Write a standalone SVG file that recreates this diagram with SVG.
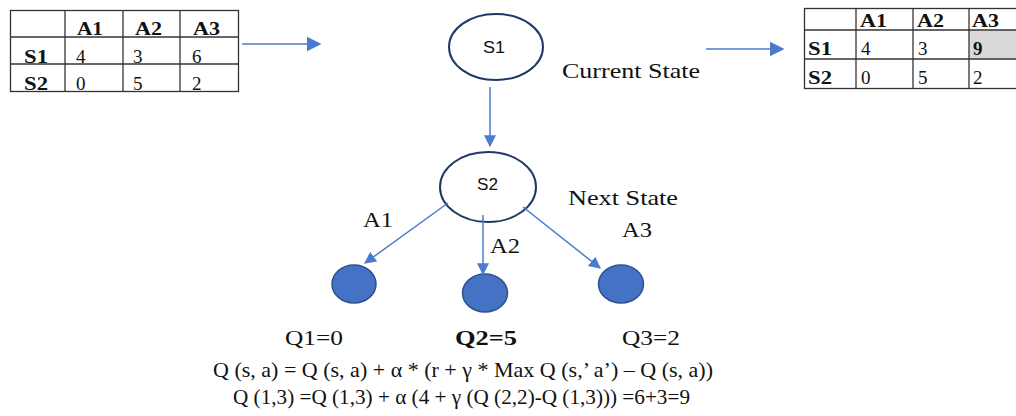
<svg xmlns="http://www.w3.org/2000/svg" width="1016" height="416" viewBox="0 0 1016 416">
<style>
.t{font-family:"Liberation Serif","Times New Roman",serif;font-size:21px;fill:#111}
.c{font-family:"Liberation Serif","Times New Roman",serif;font-size:19px;fill:#111}
.b{font-weight:bold}
.s{font-family:"Liberation Sans",Arial,sans-serif;font-size:16px;fill:#111}
.grid{stroke:#333;stroke-width:1.3;fill:none}
.edge{stroke:#4A7BD0;stroke-width:1.5;fill:none}
.state{fill:#fff;stroke:#1F3864;stroke-width:2}
.leaf{fill:#4472C4;stroke:#2F528F;stroke-width:1.5}
</style>
<defs>
<marker id="ah" viewBox="0 0 10 10" refX="9" refY="5" markerWidth="12" markerHeight="12" markerUnits="userSpaceOnUse" orient="auto">
<path d="M0,0 L10,5 L0,10 z" fill="#4A7BD0"/>
</marker>
<marker id="ah2" viewBox="0 0 10 10" refX="9" refY="5" markerWidth="15" markerHeight="15" markerUnits="userSpaceOnUse" orient="auto">
<path d="M0,0 L10,5 L0,10 z" fill="#4A7BD0"/>
</marker>
</defs>
<rect width="1016" height="416" fill="#fff"/>

<g id="table-left">
<rect class="grid" x="10.5" y="10.5" width="228" height="81"/>
<line class="grid" x1="65" y1="10" x2="65" y2="91"/>
<line class="grid" x1="123" y1="10" x2="123" y2="91"/>
<line class="grid" x1="180" y1="10" x2="180" y2="91"/>
<line class="grid" x1="10" y1="37" x2="238" y2="37"/>
<line class="grid" x1="10" y1="64" x2="238" y2="64"/>
<text class="c b" x="77" y="35" textLength="26" lengthAdjust="spacingAndGlyphs">A1</text>
<text class="c b" x="135" y="35" textLength="27" lengthAdjust="spacingAndGlyphs">A2</text>
<text class="c b" x="193" y="35" textLength="27" lengthAdjust="spacingAndGlyphs">A3</text>
<text class="c b" x="24" y="63" textLength="24" lengthAdjust="spacingAndGlyphs">S1</text>
<text class="c" x="76" y="63">4</text>
<text class="c" x="133" y="63">3</text>
<text class="c" x="192" y="63">6</text>
<text class="c b" x="24" y="90" textLength="24" lengthAdjust="spacingAndGlyphs">S2</text>
<text class="c" x="76" y="90">0</text>
<text class="c" x="133" y="90">5</text>
<text class="c" x="192" y="90">2</text>
</g>

<g id="table-right">
<rect x="969" y="30" width="47" height="29" fill="#D9D9D9"/>
<rect class="grid" x="804.5" y="8.5" width="220" height="80"/>
<line class="grid" x1="856" y1="8" x2="856" y2="89"/>
<line class="grid" x1="913" y1="8" x2="913" y2="89"/>
<line class="grid" x1="969" y1="8" x2="969" y2="89"/>
<line class="grid" x1="804" y1="30" x2="1016" y2="30"/>
<line class="grid" x1="804" y1="59" x2="1016" y2="59"/>
<text class="c b" x="860" y="27" textLength="27" lengthAdjust="spacingAndGlyphs">A1</text>
<text class="c b" x="917" y="27" textLength="27" lengthAdjust="spacingAndGlyphs">A2</text>
<text class="c b" x="972" y="27" textLength="27" lengthAdjust="spacingAndGlyphs">A3</text>
<text class="c b" x="808" y="55" textLength="24" lengthAdjust="spacingAndGlyphs">S1</text>
<text class="c" x="861" y="55">4</text>
<text class="c" x="918" y="55">3</text>
<text class="c b" x="973" y="55">9</text>
<text class="c b" x="808" y="84" textLength="24" lengthAdjust="spacingAndGlyphs">S2</text>
<text class="c" x="861" y="84">0</text>
<text class="c" x="918" y="84">5</text>
<text class="c" x="973" y="84">2</text>
</g>

<g id="node-s1">
<ellipse class="state" cx="496" cy="47" rx="47" ry="33"/>
<text class="s" x="483" y="53" textLength="22" lengthAdjust="spacingAndGlyphs">S1</text>
</g>
<text class="t" x="562" y="78" textLength="138" lengthAdjust="spacingAndGlyphs">Current State</text>

<g id="node-s2">
<ellipse class="state" cx="488" cy="187" rx="48" ry="35"/>
<text class="s" x="477" y="190" textLength="21" lengthAdjust="spacingAndGlyphs">S2</text>
</g>
<text class="t" x="568" y="205" textLength="110" lengthAdjust="spacingAndGlyphs">Next State</text>

<g id="node-q1"><ellipse class="leaf" cx="354" cy="284" rx="22" ry="19"/></g>
<g id="node-q2"><ellipse class="leaf" cx="485" cy="293" rx="22.5" ry="19"/></g>
<g id="node-q3"><ellipse class="leaf" cx="621" cy="284" rx="22.5" ry="19"/></g>

<g id="connectors">
<line class="edge" x1="242" y1="44" x2="320" y2="44" marker-end="url(#ah2)"/>
<line class="edge" x1="706" y1="49" x2="783" y2="49" marker-end="url(#ah2)"/>
<line class="edge" x1="490" y1="87" x2="490" y2="146" marker-end="url(#ah)"/>
<line class="edge" x1="448" y1="203" x2="365" y2="263" marker-end="url(#ah)"/>
<line class="edge" x1="483" y1="215" x2="483" y2="274" marker-end="url(#ah)"/>
<line class="edge" x1="523" y1="207" x2="600" y2="268" marker-end="url(#ah)"/>
</g>

<g id="labels">
<text class="t" x="363" y="227" textLength="30" lengthAdjust="spacingAndGlyphs">A1</text>
<text class="t" x="490" y="253" textLength="30" lengthAdjust="spacingAndGlyphs">A2</text>
<text class="t" x="622" y="237" textLength="30" lengthAdjust="spacingAndGlyphs">A3</text>
<text class="t" x="285" y="345" textLength="58" lengthAdjust="spacingAndGlyphs">Q1=0</text>
<text class="t b" x="455" y="345" textLength="62" lengthAdjust="spacingAndGlyphs">Q2=5</text>
<text class="t" x="622" y="345" textLength="58" lengthAdjust="spacingAndGlyphs">Q3=2</text>
<text class="t" x="213" y="377" textLength="500" lengthAdjust="spacingAndGlyphs">Q (s, a) = Q (s, a) + α * (r + γ * Max Q (s,’ a’) – Q (s, a))</text>
<text class="t" x="233" y="404" textLength="457" lengthAdjust="spacingAndGlyphs">Q (1,3) =Q (1,3) + α (4 + γ (Q (2,2)-Q (1,3))) =6+3=9</text>
</g>
</svg>
